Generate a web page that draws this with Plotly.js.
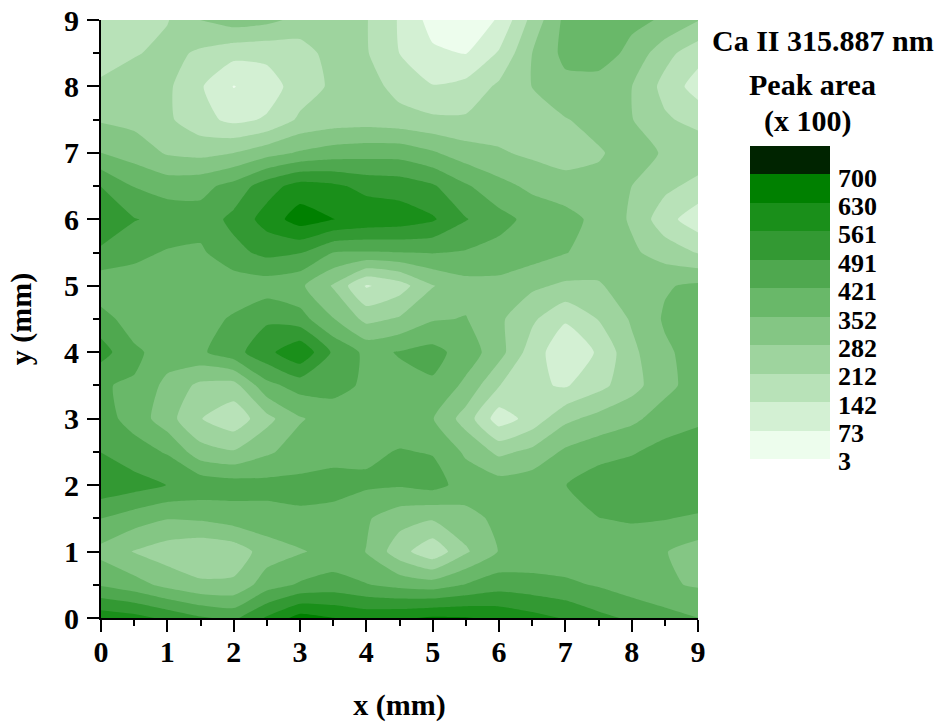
<!DOCTYPE html>
<html><head><meta charset="utf-8">
<script src="https://cdn.plot.ly/plotly-3.0.1.min.js"></script>
<style>html,body{margin:0;padding:0;background:#fff}</style></head>
<body><div id="chart" style="width:943px;height:725px"></div>
<script>
const xs = [0,0.5,1,1.5,2,2.5,3,3.5,4,4.5,5,5.5,6,6.5,7,7.5,8,8.5,9];
const ys = [0,0.5,1,1.5,2,2.5,3,3.5,4,4.5,5,5.5,6,6.5,7,7.5,8,8.5,9];
const y0_0 = [605,585,545,500,475,570,660,632,610,620,640,635,615,585,555,510,480,450,422];
const y0_5 = [415,380,330,295,295,390,430,450,425,400,385,425,460,450,435,415,385,360,345];
const y1_0 = [330,278,245,225,240,315,345,375,350,240,160,272,355,370,375,380,375,355,320];
const y1_5 = [422,385,355,362,385,395,410,398,360,310,290,325,370,385,405,420,430,425,410];
const y2_0 = [540,520,490,470,455,445,440,445,432,428,445,395,385,395,420,460,470,475,485];
const y2_5 = [490,450,415,310,288,340,385,400,410,425,418,340,265,300,365,395,415,445,470];
const y3_0 = [450,395,310,215,165,260,345,385,395,390,355,250,105,170,265,305,335,385,405];
const y3_5 = [425,415,330,265,255,400,450,445,410,405,411,335,215,155,135,190,255,330,385];
const y4_0 = [520,435,390,410,465,540,620,480,405,425,445,390,310,175,95,150,265,340,380];
const y4_5 = [450,385,375,395,430,480,450,355,262,290,345,355,295,225,150,215,290,360,372];
const y5_0 = [372,385,378,375,380,385,365,275,135,180,278,325,330,295,270,275,315,345,365];
const y5_5 = [477,440,415,410,470,510,495,420,415,420,425,415,398,385,355,320,295,250,208];
const y6_0 = [545,495,470,450,510,590,665,632,610,600,570,495,445,400,372,335,272,170,100];
const y6_5 = [490,418,390,400,445,530,590,575,540,530,500,430,375,335,320,300,282,230,190];
const y7_0 = [352,320,275,262,282,325,360,385,395,395,360,315,290,268,240,275,310,275,258];
const y7_5 = [275,262,225,165,125,150,225,245,250,240,225,222,245,262,278,305,285,222,190];
const y8_0 = [225,258,225,150,70,110,175,225,245,185,146,165,225,283,330,325,283,190,110];
const y8_5 = [180,205,235,200,165,160,175,245,218,142,85,70,150,282,372,382,335,235,170];
const y9_0 = [170,170,208,282,315,300,262,235,216,136,45,25,80,235,370,395,365,345,285];
const zRows = [y0_0,y0_5,y1_0,y1_5,y2_0,y2_5,y3_0,y3_5,y4_0,y4_5,y5_0,y5_5,y6_0,y6_5,y7_0,y7_5,y8_0,y8_5,y9_0];

const levelLabels = ['3','73','142','212','282','352','421','491','561','630','700'];
const bandColors = ['#edfded','#d3f0d3','#b8e2b8','#9ed49e','#84c684','#69b869','#4fa84f','#339933','#1a8f1a','#008000','#002400'];

const zMin = 3, zMax = 770, step = (zMax - zMin) / bandColors.length;
const scale = [];
for (let i=0;i<9;i++){ scale.push([i/10,bandColors[i]]); scale.push([(i+1)/10,bandColors[i]]); }
scale.push([0.9,bandColors[9]]); scale.push([0.97,bandColors[9]]); scale.push([0.97,bandColors[10]]); scale.push([1,bandColors[10]]);

const fontFam = '"Liberation Serif","Times New Roman",serif';
const trace = {
  type:'contour', x:xs, y:ys, z:zRows,
  zmin:zMin, zmax:zMax, zauto:false,
  colorscale:scale,
  autocontour:false,
  contours:{start:zMin,end:zMax,size:step,coloring:'fill',showlines:false},
  line:{width:0,smoothing:0.5},
  hoverinfo:'skip',
  colorbar:{
    thickness:80, thicknessmode:'pixels',
    len:313, lenmode:'pixels',
    x:750/943, xanchor:'left', xref:'container',
    y:1-557/725, yanchor:'bottom', yref:'container',
    xpad:0, ypad:0,
    outlinewidth:0, borderwidth:0,
    ticks:'', showticklabels:false
  }
};
const plotW = 597.5, plotH = 598;
function note(text,px,py,anchor,size){
  return {text:text,xref:'paper',yref:'paper',x:(px-100.5)/plotW,y:1-(py-20)/plotH,xanchor:anchor,yanchor:'middle',showarrow:false,font:{family:fontFam,size:size,color:'#000',weight:700}};
}
const layout = {
  width:943, height:725,
  margin:{l:100.5,r:245,t:20,b:107,pad:0},
  paper_bgcolor:'#fff', plot_bgcolor:'#fff',
  font:{family:fontFam,color:'#000'},
  showlegend:false,
  xaxis:{
    range:[0,9], tick0:0, dtick:1, ticks:'outside', ticklen:12, tickwidth:2, tickcolor:'#000',
    ticklabelstandoff:-6,
    showline:true, linewidth:2, linecolor:'#000', mirror:false, showgrid:false, zeroline:false,
    minor:{dtick:0.5,ticks:'outside',ticklen:6,tickwidth:2,tickcolor:'#000',showgrid:false},
    tickfont:{family:fontFam,size:30,color:'#000',weight:700},
    title:{text:'x (mm)',standoff:27,font:{family:fontFam,size:30,color:'#000',weight:700}}
  },
  yaxis:{
    range:[0,9], tick0:0, dtick:1, ticks:'outside', ticklen:12, tickwidth:2, tickcolor:'#000',
    ticklabelstandoff:2,
    showline:true, linewidth:2, linecolor:'#000', mirror:false, showgrid:false, zeroline:false,
    minor:{dtick:0.5,ticks:'outside',ticklen:6,tickwidth:2,tickcolor:'#000',showgrid:false},
    tickfont:{family:fontFam,size:30,color:'#000',weight:700},
    title:{text:'y (mm)',standoff:24,font:{family:fontFam,size:30,color:'#000',weight:700}}
  },
  annotations:[
    note('Ca II 315.887 nm',823.5,41,'center',30),
    note('Peak area',813,84,'center',30),
    note('(x 100)',808,121,'center',30)
  ].concat(levelLabels.map((t,i)=>note(t,836,462-i*28.4,'left',26)))
};
Plotly.newPlot('chart',[trace],layout,{displayModeBar:false,staticPlot:true});
</script></body></html>
